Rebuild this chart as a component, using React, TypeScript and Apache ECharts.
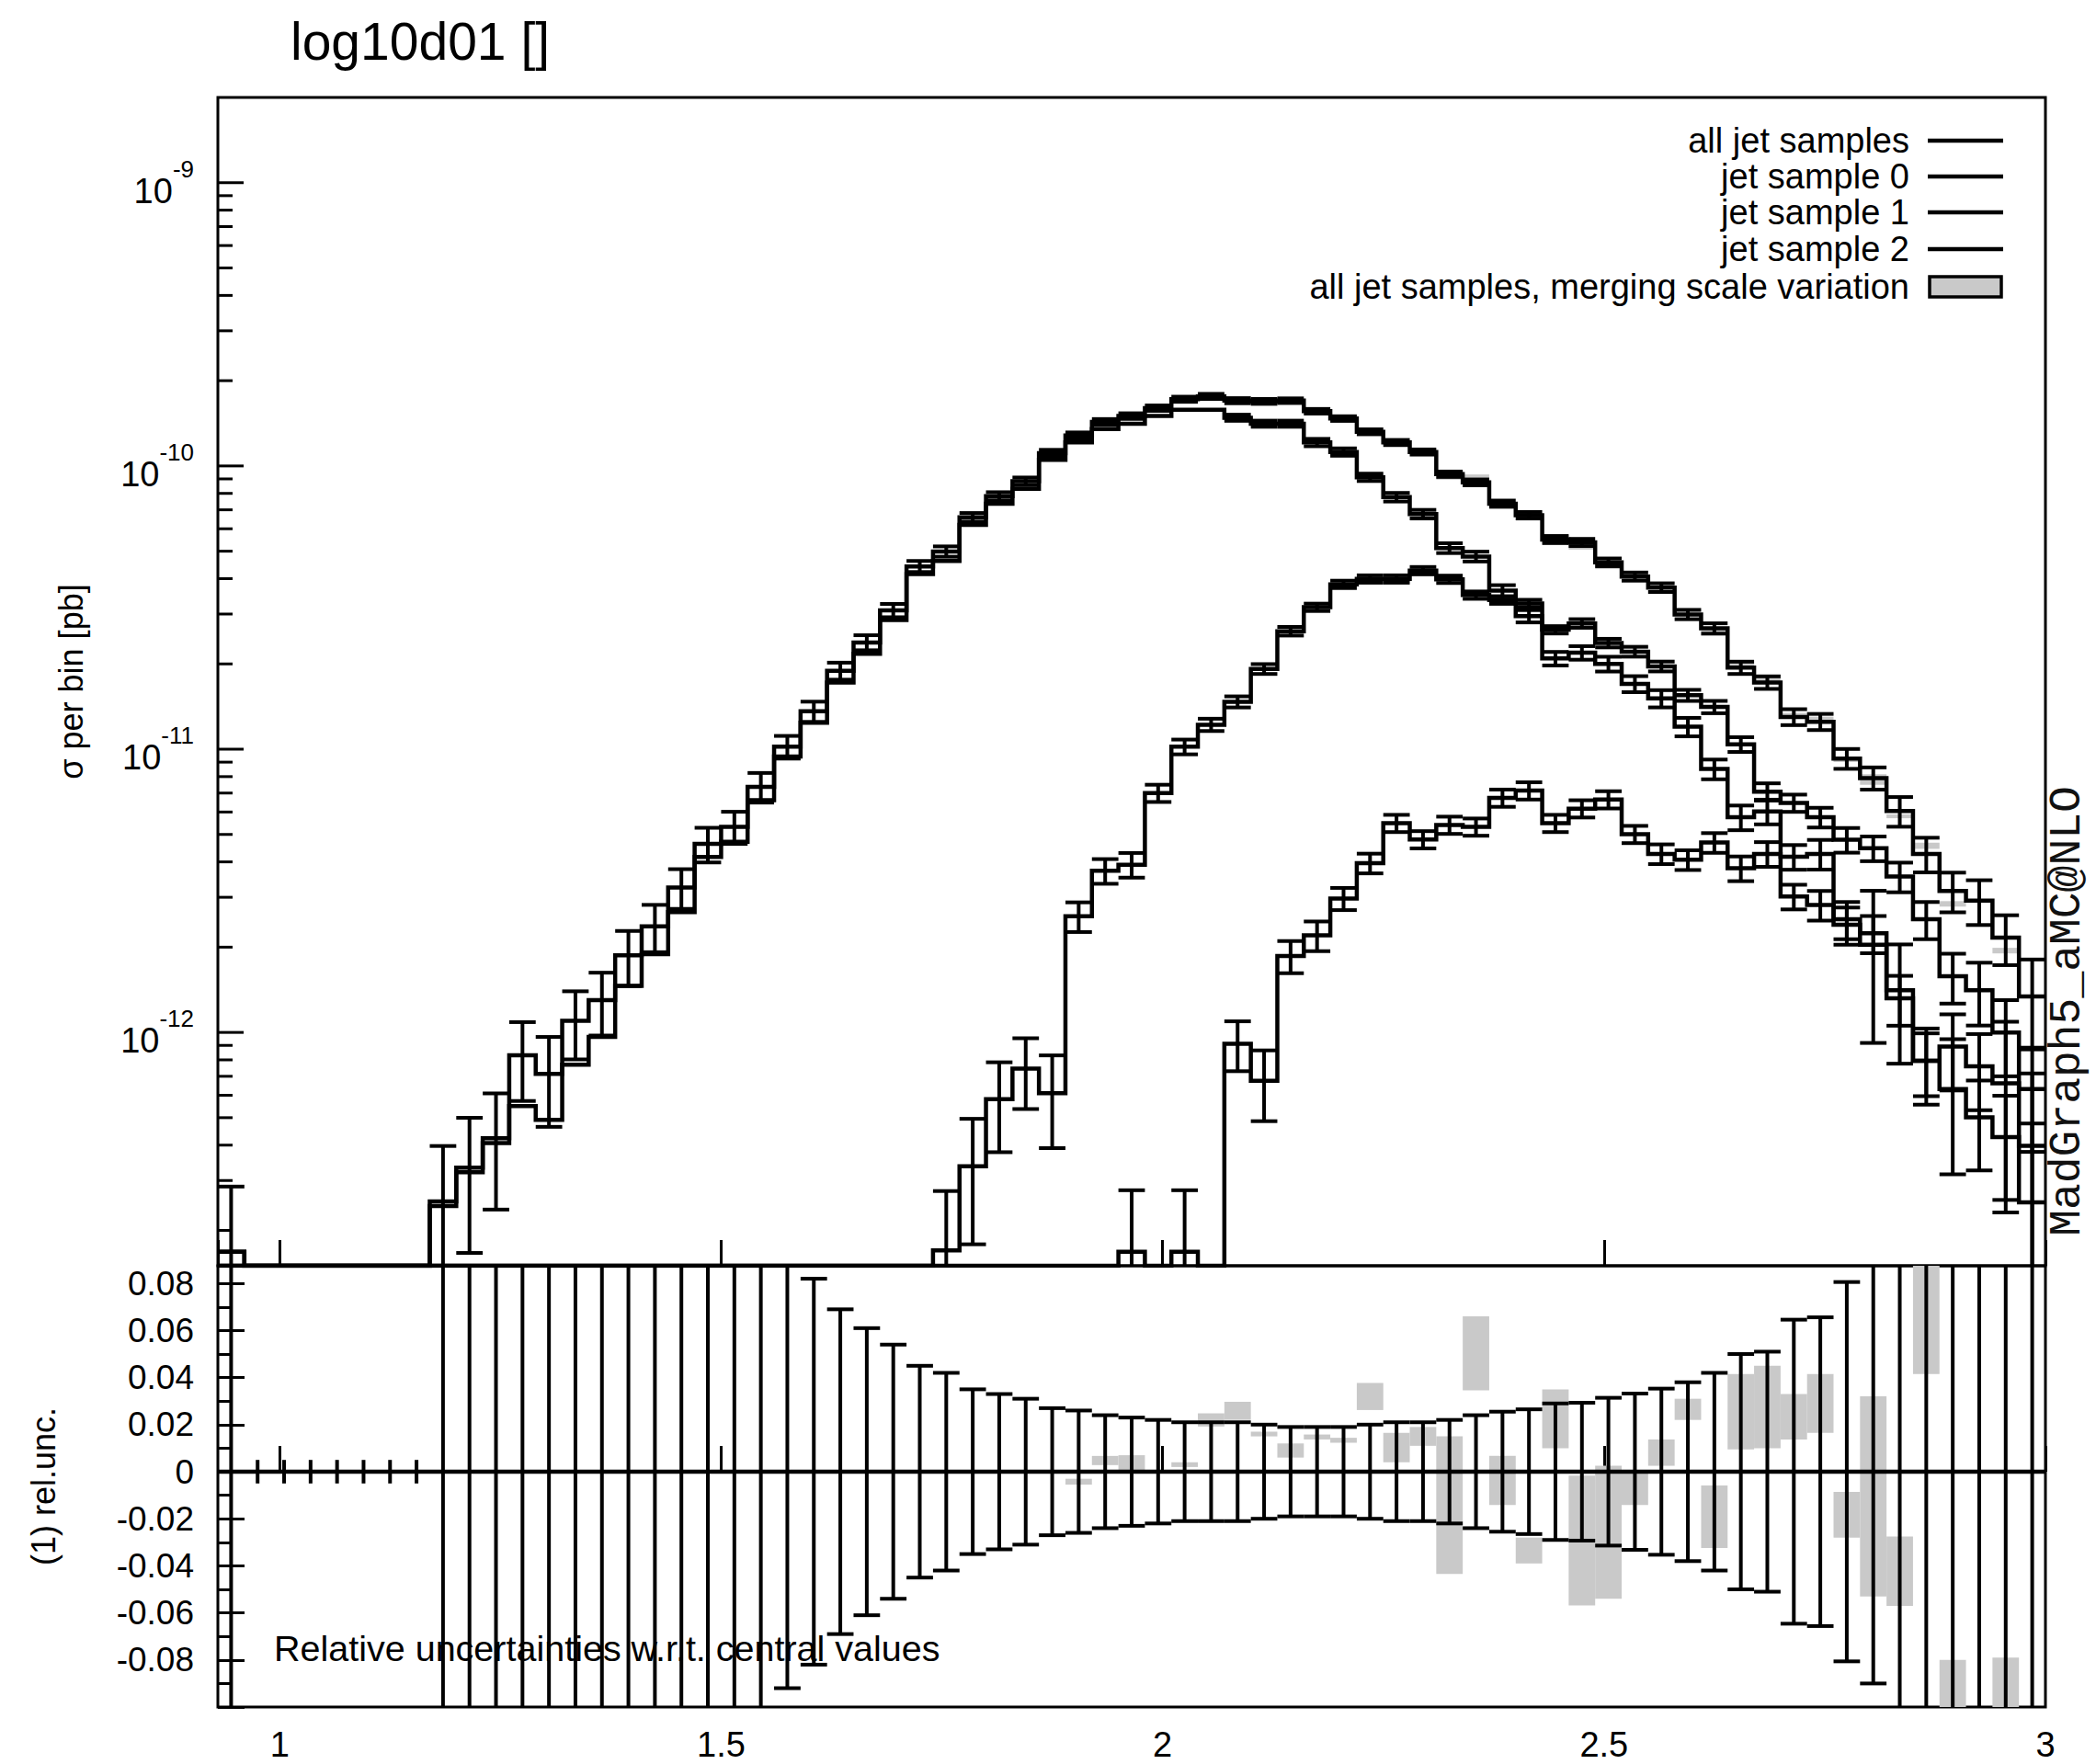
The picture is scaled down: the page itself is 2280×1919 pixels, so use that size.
import React, { useEffect, useRef } from "react";
import * as echarts from "echarts";

// ---------- data ----------
// lower edges of the 0.03-wide bins
const binLo = [
  0.93, 0.96, 0.99, 1.02, 1.05, 1.08, 1.11, 1.14, 1.17, 1.2,
  1.23, 1.26, 1.29, 1.32, 1.35, 1.38, 1.41, 1.44, 1.47, 1.5,
  1.53, 1.56, 1.59, 1.62, 1.65, 1.68, 1.71, 1.74, 1.77, 1.8,
  1.83, 1.86, 1.89, 1.92, 1.95, 1.98, 2.01, 2.04, 2.07, 2.1,
  2.13, 2.16, 2.19, 2.22, 2.25, 2.28, 2.31, 2.34, 2.37, 2.4,
  2.43, 2.46, 2.49, 2.52, 2.55, 2.58, 2.61, 2.64, 2.67, 2.7,
  2.73, 2.76, 2.79, 2.82, 2.85, 2.88, 2.91, 2.94, 2.97,
];
const BIN_W = 0.03;

const allJet = [
  1.68e-13, 0, 0, 0, 0, 0, 0, 0, 2.53e-13, 3.33e-13,
  4.23e-13, 8.3e-13, 7.14e-13, 1.1e-12, 1.3e-12, 1.87e-12, 2.37e-12, 3.25e-12, 4.63e-12, 5.32e-12,
  7.36e-12, 1.02e-11, 1.36e-11, 1.89e-11, 2.38e-11, 3.09e-11, 4.42e-11, 4.99e-11, 6.59e-11, 7.82e-11,
  8.83e-11, 1.11e-10, 1.28e-10, 1.43e-10, 1.5e-10, 1.6e-10, 1.72e-10, 1.76e-10, 1.7e-10, 1.69e-10,
  1.7e-10, 1.56e-10, 1.47e-10, 1.32e-10, 1.21e-10, 1.12e-10, 9.35e-11, 8.75e-11, 7.36e-11, 6.7e-11,
  5.5e-11, 5.37e-11, 4.57e-11, 4.07e-11, 3.72e-11, 2.99e-11, 2.67e-11, 1.94e-11, 1.72e-11, 1.3e-11,
  1.25e-11, 9.27e-12, 7.91e-12, 6.05e-12, 4.27e-12, 3.16e-12, 2.92e-12, 2.16e-12, 1.34e-12,
];
// relative uncertainty of "all jet samples" (also shown in the lower panel)
const allJetRelErr = [
  0.7, 0.005, 0.005, 0.005, 0.005, 0.005, 0.005, 0.005, 0.57, 0.5,
  0.44, 0.31, 0.35, 0.27, 0.25, 0.22, 0.19, 0.16, 0.14, 0.13,
  0.12, 0.092, 0.082, 0.069, 0.061, 0.054, 0.045, 0.042, 0.035, 0.033,
  0.031, 0.027, 0.026, 0.024, 0.023, 0.022, 0.021, 0.021, 0.021, 0.02,
  0.019, 0.019, 0.019, 0.02, 0.021, 0.021, 0.022, 0.024, 0.0255, 0.0265,
  0.029, 0.0293, 0.0314, 0.0332, 0.0353, 0.038, 0.042, 0.05, 0.051, 0.0646,
  0.0656, 0.0806, 0.09, 0.12, 0.14, 0.16, 0.18, 0.2, 0.35,
];

const jetSample0 = [
  1.68e-13, 0, 0, 0, 0, 0, 0, 0, 2.44e-13, 3.21e-13,
  4.07e-13, 5.5e-13, 4.91e-13, 7.69e-13, 9.64e-13, 1.46e-12, 1.89e-12, 2.66e-12, 4.16e-12, 4.71e-12,
  6.61e-12, 9.42e-12, 1.24e-11, 1.72e-11, 2.17e-11, 2.86e-11, 4.15e-11, 4.62e-11, 6.19e-11, 7.35e-11,
  8.3e-11, 1.05e-10, 1.21e-10, 1.35e-10, 1.41e-10, 1.5e-10, 1.58e-10, 1.58e-10, 1.48e-10, 1.41e-10,
  1.41e-10, 1.21e-10, 1.12e-10, 9.12e-11, 7.76e-11, 6.76e-11, 5.13e-11, 4.79e-11, 3.63e-11, 2.95e-11,
  2.09e-11, 2.19e-11, 2.0e-11, 1.7e-11, 1.51e-11, 1.2e-11, 8.51e-12, 5.75e-12, 6.03e-12, 4.17e-12,
  4.27e-12, 2.51e-12, 2.24e-12, 1.41e-12, 7.94e-13, 8.91e-13, 7.59e-13, 6.61e-13, 3.98e-13,
];
const jetSample0RelErr = [
  null, null, null, null, null, null, null, null, null, null,
  null, null, null, null, null, null, null, null, null, null,
  null, null, null, null, null, null, null, null, null, null,
  null, null, null, null, null, null, null, null, 0.025, 0.025,
  0.025, 0.03, 0.03, 0.03, 0.035, 0.035, 0.04, 0.04, 0.045, 0.05,
  0.055, 0.055, 0.06, 0.065, 0.07, 0.075, 0.08, 0.1, 0.1, 0.1,
  0.12, 0.15, 0.15, 0.45, 0.25, 0.3, 0.3, 0.65, 0.8,
];

const jetSample1 = [
  0, 0, 0, 0, 0, 0, 0, 0, 0, 0,
  0, 0, 0, 0, 0, 0, 0, 0, 0, 0,
  0, 0, 0, 0, 0, 0, 0, 1.7e-13, 3.37e-13, 5.81e-13,
  7.45e-13, 6.1e-13, 2.57e-12, 3.72e-12, 3.91e-12, 7.0e-12, 1.02e-11, 1.22e-11, 1.47e-11, 1.92e-11,
  2.61e-11, 3.17e-11, 3.82e-11, 3.99e-11, 3.99e-11, 4.27e-11, 3.98e-11, 3.5e-11, 3.36e-11, 3.27e-11,
  2.64e-11, 2.78e-11, 2.37e-11, 2.21e-11, 1.96e-11, 1.55e-11, 1.41e-11, 1.04e-11, 7.08e-12, 6.46e-12,
  5.75e-12, 4.79e-12, 4.47e-12, 3.55e-12, 2.51e-12, 1.58e-12, 1.41e-12, 1.0e-12, 6.31e-13,
];
const jetSample1RelErr = [
  null, null, null, null, null, null, null, null, null, null,
  null, null, null, null, null, null, null, null, null, null,
  null, null, null, null, null, null, null, 0.62, 0.47, 0.35,
  0.28, 0.36, 0.12, 0.1, 0.1, 0.07, 0.06, 0.05, 0.045, 0.04,
  0.035, 0.03, 0.03, 0.03, 0.03, 0.03, 0.03, 0.03, 0.03, 0.03,
  0.03, 0.035, 0.035, 0.04, 0.04, 0.045, 0.05, 0.06, 0.07, 0.07,
  0.08, 0.1, 0.1, 0.12, 0.15, 0.2, 0.25, 0.3, 0.4,
];

const jetSample2 = [
  0, 0, 0, 0, 0, 0, 0, 0, 0, 0,
  0, 0, 0, 0, 0, 0, 0, 0, 0, 0,
  0, 0, 0, 0, 0, 0, 0, 0, 0, 0,
  0, 0, 0, 0, 1.68e-13, 0, 1.68e-13, 0, 9.12e-13, 6.75e-13,
  1.86e-12, 2.2e-12, 2.97e-12, 3.96e-12, 5.48e-12, 4.8e-12, 5.4e-12, 5.32e-12, 6.73e-12, 7.14e-12,
  5.48e-12, 6.17e-12, 6.64e-12, 5.01e-12, 4.27e-12, 4.07e-12, 4.68e-12, 3.8e-12, 4.27e-12, 3.02e-12,
  2.82e-12, 2.4e-12, 2.04e-12, 1.32e-12, 7.94e-13, 6.31e-13, 5.01e-13, 4.27e-13, 2.51e-13,
];
const jetSample2RelErr = [
  null, null, null, null, null, null, null, null, null, null,
  null, null, null, null, null, null, null, null, null, null,
  null, null, null, null, null, null, null, null, null, null,
  null, null, null, null, 0.65, null, 0.65, null, 0.2, 0.28,
  0.13, 0.12, 0.09, 0.08, 0.07, 0.07, 0.07, 0.07, 0.07, 0.07,
  0.07, 0.07, 0.07, 0.07, 0.08, 0.08, 0.08, 0.1, 0.1, 0.1,
  0.12, 0.15, 0.55, 0.2, 0.3, 0.5, 0.35, 0.4, 0.9,
];

// merging scale variation, relative to "all jet samples"
const bandLo = [
  null, null, null, null, null, null, null, null, null, null,
  null, null, null, null, null, null, null, null, null, null,
  null, null, null, null, null, null, null, null, null, null,
  null, null, -0.0055, 0.0028, 0.0007, null, 0.002, 0.0192, 0.022, 0.015,
  0.006, 0.0137, 0.0123, 0.0262, 0.004, 0.011, -0.0435, 0.0346, -0.0142, -0.039,
  0.01, -0.0568, -0.054, -0.0142, 0.0025, 0.022, -0.0324, 0.0095, 0.01, 0.0137,
  0.0165, -0.028, -0.053, -0.057, 0.0415, -0.12, null, -0.12, null,
];
const bandHi = [
  null, null, null, null, null, null, null, null, null, null,
  null, null, null, null, null, null, null, null, null, null,
  null, null, null, null, null, null, null, null, null, null,
  null, null, -0.003, 0.0067, 0.007, null, 0.004, 0.0248, 0.0297, 0.017,
  0.012, 0.0158, 0.0144, 0.0377, 0.0165, 0.019, 0.015, 0.066, 0.0067, -0.028,
  0.035, -0.0017, 0.0025, -0.0003, 0.0137, 0.031, -0.0059, 0.0415, 0.045, 0.033,
  0.0415, -0.0086, 0.032, -0.0275, 0.095, -0.08, null, -0.079, null,
];

const mainMajorTicks = [1e-12, 1e-11, 1e-10, 1e-9];
const mainMajorLabels = ["-12", "-11", "-10", "-9"];
const mainMinorTicks = [
  2e-13, 3e-13, 4e-13, 5e-13, 6e-13, 7e-13, 8e-13, 9e-13,
  2e-12, 3e-12, 4e-12, 5e-12, 6e-12, 7e-12, 8e-12, 9e-12,
  2e-11, 3e-11, 4e-11, 5e-11, 6e-11, 7e-11, 8e-11, 9e-11,
  2e-10, 3e-10, 4e-10, 5e-10, 6e-10, 7e-10, 8e-10, 9e-10,
];

const legendNames = [
  "all jet samples",
  "jet sample 0",
  "jet sample 1",
  "jet sample 2",
  "all jet samples, merging scale variation",
];

// ---------- layout / style ----------
const X_MIN = 0.93;
const X_MAX = 3;
const Y_MIN = 1.5e-13;
const Y_MAX = 2e-9;
const R_MIN = -0.1;
const R_MAX = 0.0875;
const FONT = "'Liberation Sans', Arial, Helvetica, sans-serif";
const MONO = "'Liberation Mono', 'DejaVu Sans Mono', monospace";
const GRAY = "#c9c9c9";
const HIST_W = 4.5;
const ERR_W = 4;

function stepData(vals: number[]) {
  const pts: number[][] = [];
  vals.forEach((v, i) => {
    const y = v > 0 ? v : Y_MIN;
    pts.push([binLo[i], y], [binLo[i] + BIN_W, y]);
  });
  return pts;
}

function histSeries(vals: number[]) {
  return {
    type: "line",
    xAxisIndex: 0,
    yAxisIndex: 0,
    data: stepData(vals),
    symbol: "none",
    showSymbol: false,
    silent: true,
    clip: true,
    z: 3,
    lineStyle: { color: "#000", width: HIST_W, join: "miter" },
  };
}

function errSeries(vals: number[], rel: (number | null)[]) {
  const data: number[][] = [];
  vals.forEach((v, i) => {
    const r = rel[i];
    if (v > 0 && r != null) data.push([binLo[i], v, r]);
  });
  return {
    type: "custom",
    xAxisIndex: 0,
    yAxisIndex: 0,
    data,
    silent: true,
    z: 4,
    renderItem: (params: any, api: any) => {
      const x0 = api.value(0);
      const v = api.value(1);
      const r = api.value(2);
      const cs = params.coordSys;
      const top = cs.y;
      const bot = cs.y + cs.height;
      const xl = api.coord([x0, v])[0];
      const xr = api.coord([x0 + BIN_W, v])[0];
      const xc = (xl + xr) / 2;
      const hiV = v * (1 + r);
      const loV = v * (1 - r);
      const yHiRaw = api.coord([x0, hiV])[1];
      const yLoRaw = loV > 0 ? api.coord([x0, loV])[1] : bot + 100;
      const yHi = Math.max(top, yHiRaw);
      const yLo = Math.min(bot, yLoRaw);
      const st = { stroke: "#000", lineWidth: ERR_W };
      const children: any[] = [
        { type: "line", shape: { x1: xc, y1: yHi, x2: xc, y2: yLo }, style: st },
      ];
      if (yHiRaw >= top && yHiRaw <= bot)
        children.push({ type: "line", shape: { x1: xl, y1: yHiRaw, x2: xr, y2: yHiRaw }, style: st });
      if (yLoRaw <= bot && yLoRaw >= top)
        children.push({ type: "line", shape: { x1: xl, y1: yLoRaw, x2: xr, y2: yLoRaw }, style: st });
      return { type: "group", children };
    },
  };
}

function buildOption() {
  const mainBand: number[][] = [];
  const ratioBand: number[][] = [];
  binLo.forEach((x, i) => {
    const lo = bandLo[i];
    const hi = bandHi[i];
    if (lo == null || hi == null || !(allJet[i] > 0)) return;
    mainBand.push([x, allJet[i] * (1 + lo), allJet[i] * (1 + hi)]);
    ratioBand.push([x, lo, hi]);
  });

  const ratioErr: number[][] = [];
  binLo.forEach((x, i) => {
    ratioErr.push([x, allJetRelErr[i], allJet[i] > 0 ? 1 : 0]);
  });

  const tickData: any[] = [];
  mainMajorTicks.forEach((v, k) => tickData.push([X_MIN, v, 1, k]));
  mainMinorTicks.forEach((v) => tickData.push([X_MIN, v, 0, -1]));

  const bandRender = (params: any, api: any) => {
    const x0 = api.value(0);
    const lo = api.value(1);
    const hi = api.value(2);
    const cs = params.coordSys;
    const p1 = api.coord([x0, hi]);
    const p2 = api.coord([x0 + BIN_W, lo]);
    const y1 = Math.max(cs.y, p1[1]);
    const y2 = Math.min(cs.y + cs.height, p2[1]);
    if (!(y2 > y1)) return { type: "group", children: [] };
    return {
      type: "rect",
      shape: { x: p1[0], y: y1, width: p2[0] - p1[0], height: y2 - y1 },
      style: { fill: GRAY },
    };
  };

  const rowY = [153, 192, 231, 271, 312];
  const graphic: any[] = [
    {
      type: "text",
      x: 316,
      y: 45,
      style: { text: "log10d01 []", font: `57px ${FONT}`, fill: "#000", align: "left", verticalAlign: "middle" },
    },
    {
      type: "text",
      x: 298,
      y: 1793,
      z: 0,
      style: {
        text: "Relative uncertainties w.r.t. central values",
        font: `39.5px ${FONT}`,
        fill: "#000",
        align: "left",
        verticalAlign: "middle",
      },
    },
    {
      type: "text",
      x: 2249,
      y: 1100,
      rotation: Math.PI / 2,
      style: { text: "MadGraph5_aMC@NLO", font: `48px ${MONO}`, fill: "#111", align: "center", verticalAlign: "middle" },
    },
  ];
  legendNames.forEach((name, k) => {
    graphic.push({
      type: "text",
      x: 2077,
      y: rowY[k],
      style: { text: name, font: `38px ${FONT}`, fill: "#000", align: "right", verticalAlign: "middle" },
    });
    if (k < 4) {
      graphic.push({
        type: "line",
        shape: { x1: 2097, y1: rowY[k], x2: 2179, y2: rowY[k] },
        style: { stroke: "#000", lineWidth: 4.5 },
      });
    } else {
      graphic.push({
        type: "rect",
        shape: { x: 2099, y: rowY[k] - 11, width: 78, height: 22 },
        style: { fill: GRAY, stroke: "#000", lineWidth: 3.5 },
      });
    }
  });

  return {
    animation: false,
    backgroundColor: "#fff",
    textStyle: { fontFamily: FONT },
    grid: [
      { left: 237, top: 106, width: 1988, height: 1271, show: true, borderColor: "#000", borderWidth: 3, backgroundColor: "rgba(0,0,0,0)" },
      { left: 237, top: 1377, width: 1988, height: 480, show: true, borderColor: "#000", borderWidth: 3, backgroundColor: "rgba(0,0,0,0)" },
    ],
    xAxis: [
      {
        gridIndex: 0,
        type: "value",
        min: X_MIN,
        max: X_MAX,
        splitNumber: 4,
        axisLine: { show: false },
        axisTick: { show: true, inside: true, length: 28, lineStyle: { color: "#000", width: 3 } },
        axisLabel: { show: false },
        splitLine: { show: false },
      },
      {
        gridIndex: 1,
        type: "value",
        min: X_MIN,
        max: X_MAX,
        splitNumber: 4,
        axisLine: { show: false },
        axisTick: { show: true, inside: true, length: 28, lineStyle: { color: "#000", width: 3 } },
        axisLabel: {
          show: true,
          showMinLabel: false,
          fontSize: 38,
          fontFamily: FONT,
          color: "#000",
          margin: 22,
          formatter: (v: number) => String(Math.round(v * 100) / 100),
        },
        splitLine: { show: false },
      },
    ],
    yAxis: [
      {
        gridIndex: 0,
        type: "log",
        logBase: 10,
        min: Y_MIN,
        max: Y_MAX,
        axisLine: { show: false },
        axisTick: { show: false },
        axisLabel: { show: false },
        splitLine: { show: false },
        minorSplitLine: { show: false },
        name: "σ per bin [pb]",
        nameLocation: "middle",
        nameGap: 142,
        nameTextStyle: { fontSize: 36, color: "#000", fontFamily: FONT },
      },
      {
        gridIndex: 1,
        type: "value",
        min: R_MIN,
        max: R_MAX,
        interval: 0.02,
        axisLine: { show: false },
        axisTick: { show: true, inside: true, length: 29, lineStyle: { color: "#000", width: 3 } },
        minorTick: { show: true, splitNumber: 2, length: 15, lineStyle: { color: "#000", width: 3 } },
        axisLabel: {
          show: true,
          showMinLabel: false,
          showMaxLabel: false,
          fontSize: 37,
          fontFamily: FONT,
          color: "#000",
          margin: 26,
          formatter: (v: number) => (Math.abs(v) < 1e-9 ? "0" : v.toFixed(2)),
        },
        splitLine: { show: false },
        minorSplitLine: { show: false },
        name: "(1) rel.unc.",
        nameLocation: "middle",
        nameGap: 172,
        nameTextStyle: { fontSize: 36, color: "#000", fontFamily: FONT },
      },
    ],
    graphic,
    series: [
      // merging-scale band (main panel)
      { type: "custom", xAxisIndex: 0, yAxisIndex: 0, data: mainBand, silent: true, z: 1, renderItem: bandRender },
      histSeries(allJet),
      histSeries(jetSample0),
      histSeries(jetSample1),
      histSeries(jetSample2),
      errSeries(allJet, allJetRelErr),
      errSeries(jetSample0, jetSample0RelErr),
      errSeries(jetSample1, jetSample1RelErr),
      errSeries(jetSample2, jetSample2RelErr),
      // log-axis ticks and labels of the main panel
      {
        type: "custom",
        xAxisIndex: 0,
        yAxisIndex: 0,
        data: tickData,
        silent: true,
        z: 5,
        renderItem: (params: any, api: any) => {
          const v = api.value(1);
          const major = api.value(2) === 1;
          const k = api.value(3);
          const cs = params.coordSys;
          const y = api.coord([X_MIN, v])[1];
          const children: any[] = [
            {
              type: "line",
              shape: { x1: cs.x, y1: y, x2: cs.x + (major ? 28 : 16), y2: y },
              style: { stroke: "#000", lineWidth: 3 },
            },
          ];
          if (major) {
            children.push({
              type: "text",
              x: cs.x - 26,
              y,
              style: {
                text: "{b|10}{s|" + mainMajorLabels[k] + "}",
                align: "right",
                verticalAlign: "middle",
                fill: "#000",
                rich: {
                  b: { fontSize: 38, fontFamily: FONT, fill: "#000", color: "#000", lineHeight: 56, verticalAlign: "bottom" },
                  s: { fontSize: 26, fontFamily: FONT, fill: "#000", color: "#000", lineHeight: 20, verticalAlign: "top" },
                },
              },
            });
          }
          return { type: "group", children };
        },
      },
      // ratio panel: band
      { type: "custom", xAxisIndex: 1, yAxisIndex: 1, data: ratioBand, silent: true, z: 1, renderItem: bandRender },
      // ratio panel: central line
      {
        type: "line",
        xAxisIndex: 1,
        yAxisIndex: 1,
        data: [
          [X_MIN, 0],
          [X_MAX, 0],
        ],
        symbol: "none",
        silent: true,
        z: 3,
        lineStyle: { color: "#000", width: 4.5 },
      },
      // ratio panel: relative uncertainties
      {
        type: "custom",
        xAxisIndex: 1,
        yAxisIndex: 1,
        data: ratioErr,
        silent: true,
        z: 4,
        renderItem: (params: any, api: any) => {
          const x0 = api.value(0);
          const r = api.value(1);
          const nonzero = api.value(2) === 1;
          const cs = params.coordSys;
          const top = cs.y;
          const bot = cs.y + cs.height;
          const xl = api.coord([x0, 0])[0];
          const xr = api.coord([x0 + BIN_W, 0])[0];
          const xc = (xl + xr) / 2;
          const yHiRaw = api.coord([x0, r])[1];
          const yLoRaw = api.coord([x0, -r])[1];
          const st = { stroke: "#000", lineWidth: ERR_W };
          const children: any[] = [
            {
              type: "line",
              shape: { x1: xc, y1: Math.max(top, yHiRaw), x2: xc, y2: Math.min(bot, yLoRaw) },
              style: st,
            },
          ];
          if (nonzero) {
            if (yHiRaw >= top)
              children.push({ type: "line", shape: { x1: xl, y1: yHiRaw, x2: xr, y2: yHiRaw }, style: st });
            if (yLoRaw <= bot)
              children.push({ type: "line", shape: { x1: xl, y1: yLoRaw, x2: xr, y2: yLoRaw }, style: st });
          }
          return { type: "group", children };
        },
      },
    ],
  };
}

export default function App() {
  const ref = useRef<HTMLDivElement>(null);
  useEffect(() => {
    if (!ref.current) return;
    const chart = echarts.init(ref.current, null, { renderer: "svg" });
    chart.setOption(buildOption() as any);
    return () => {
      chart.dispose();
    };
  }, []);
  return (
    <div
      ref={ref}
      style={{ position: "absolute", left: 0, top: 0, width: 2280, height: 1919, background: "#fff" }}
    />
  );
}
